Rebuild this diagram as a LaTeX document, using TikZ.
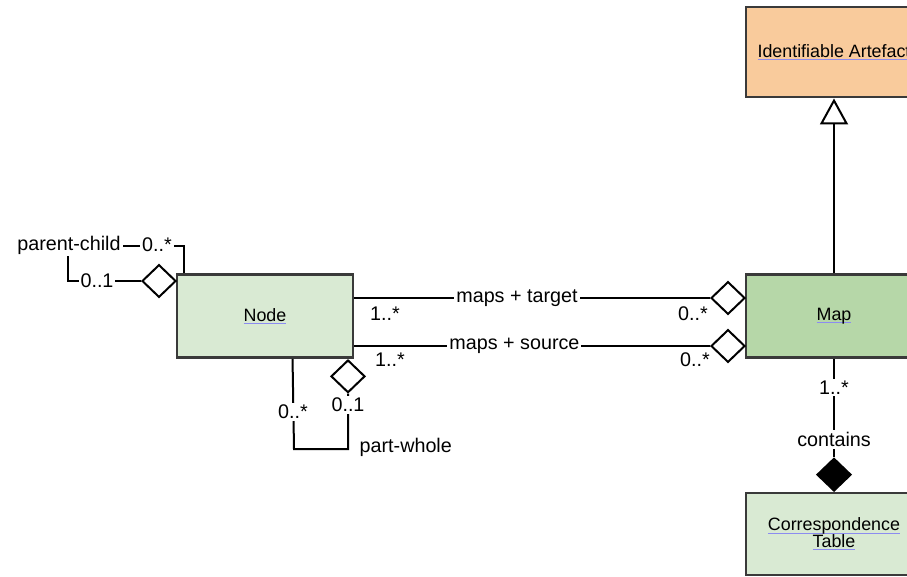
\documentclass[tikz,border=0pt]{standalone}
\usepackage{fontspec}
\setmainfont{Liberation Sans}
\usetikzlibrary{shapes.geometric,arrows.meta}

\definecolor{artefactfill}{HTML}{F9CB9C}
\definecolor{nodefill}{HTML}{D9EAD3}
\definecolor{mapfill}{HTML}{B6D7A8}
\definecolor{boxline}{HTML}{3A3A3A}
\definecolor{linkblue}{HTML}{8C8CF0}

% underlined class name, blue rule under black text
\newcommand{\classname}[1]{\setbox0=\hbox{#1}%
  \rlap{\color{linkblue}\rule[-2.2pt]{\wd0}{0.7pt}}\box0}

\begin{document}
\begin{tikzpicture}[x=0.75pt,y=-0.75pt,>=stealth,
    every node/.style={font=\fontsize{14.8}{16}\selectfont},
    classbox/.style={draw=boxline,line width=2.2pt,minimum width=132pt,
      minimum height=62.25pt,align=center,font=\fontsize{13.4}{12.6}\selectfont},
    assoc/.style={line width=1.5pt},
    aggr/.style={diamond,draw,fill=white,line width=1.5pt,inner sep=0pt,
      minimum width=25.5pt,minimum height=24.5pt},
    compo/.style={aggr,fill=black},
    lbl/.style={fill=white,inner sep=1.5pt}]
  \useasboundingbox (0,0) rectangle (907,576);
  \clip (0,0) rectangle (907,576);

  % classes
  \node[classbox,fill=artefactfill,minimum height=67.5pt] (artefact) at (834,52)
    {\classname{Identifiable Artefact}};
  \node[classbox,fill=nodefill] (node) at (265,316) {\classname{Node}};
  \node[classbox,fill=mapfill] (map) at (834,316) {\classname{Map}};
  \node[classbox,fill=nodefill,minimum height=61.5pt] (table) at (834,534)
    {\classname{Correspondence}\\\classname{Table}};

  % aggregation ends
  \node[aggr,anchor=east] (dtarget) at (746,298) {};
  \node[aggr,anchor=east] (dsource) at (746,346) {};
  \node[aggr,anchor=east] (dparent) at (177,281) {};
  \node[aggr,anchor=north] (dpart) at (348,359) {};
  \node[compo,anchor=south] (dcompo) at (834,492) {};

  % Map is an Identifiable Artefact
  \draw[assoc,-{Triangle[open,width=21pt,length=19.5pt]}] (map.north) -- (artefact.south);

  % Node -- Map
  \draw[assoc] (node.east |- dtarget) -- node[lbl,pos=0.457] {maps + target} (dtarget.west);
  \draw[assoc] (node.east |- dsource) -- node[lbl,pos=0.45] {maps + source} (dsource.west);
  \node at (385,314) {1..*};
  \node at (390,360) {1..*};
  \node at (693,314) {0..*};
  \node at (695,360) {0..*};

  % Map contains tables
  \draw[assoc] (map.south) -- node[lbl,pos=0.29] {1..*}
    node[lbl,pos=0.82] {contains} (dcompo.north);

  % parent-child
  \draw[assoc] (node.north west) ++(8,0) |- (68,246) |- (dparent.west);
  \node[lbl] at (157,245) {0..*};
  \node[lbl] at (69,245) {parent-child};
  \node[lbl] at (97,281) {0..1};

  % part-whole
  \draw[assoc] (node.south west) ++(117,0) -- (294,449) -| (dpart.south);
  \node[lbl] at (293,412) {0..*};
  \node[lbl] at (348,405) {0..1};
  \node[anchor=west] at (355,447) {part-whole};
\end{tikzpicture}
\end{document}
